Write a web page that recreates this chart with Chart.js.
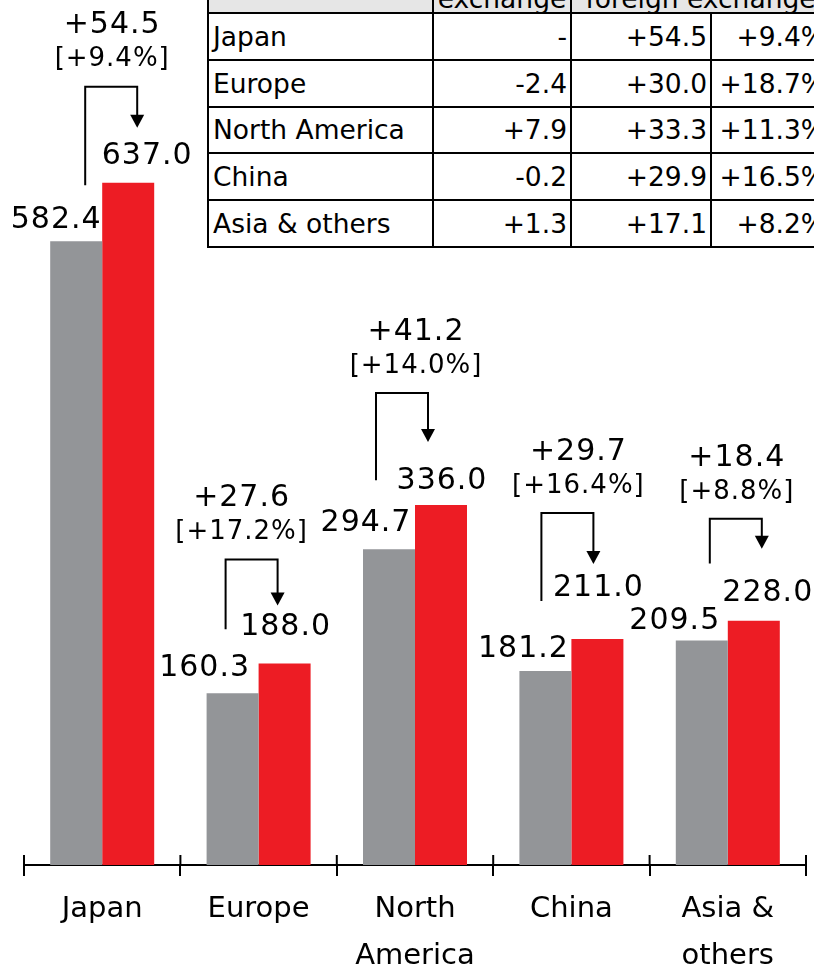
<!DOCTYPE html>
<html>
<head>
<meta charset="utf-8">
<script src="https://cdn.jsdelivr.net/npm/chart.js@4.4.1/dist/chart.umd.min.js"></script>
<style>
  html, body { margin: 0; padding: 0; background: #fff; }
  #wrap { position: relative; width: 814px; height: 969px; overflow: hidden; }
  #salesChart { position: absolute; left: 0; top: 0; }
  #fxTable {
    position: absolute; left: 207px; top: -31px;
    width: 622px; min-width: 622px;
    border-collapse: collapse; table-layout: fixed;
    font-family: "DejaVu Sans", sans-serif; font-size: 26.5px; color: #000;
    background: #fff;
  }
  #fxTable td, #fxTable th { border: 2px solid #000; padding: 0 3px; white-space: nowrap; overflow: hidden; }
  #fxTable thead th { background: #e6e6e6; height: 40px; font-weight: normal; vertical-align: bottom; line-height: 25px; padding-bottom: 1px; text-align: center; }
  #fxTable tbody td { height: 44.8px; text-align: right; line-height: 25px; }
  #fxTable tbody td:first-child { text-align: left; padding-left: 4px; }
</style>
</head>
<body>
<div id="wrap">
  <canvas id="salesChart" width="814" height="969"></canvas>
  <table id="fxTable">
    <colgroup>
      <col style="width:225px"><col style="width:138px"><col style="width:140px"><col style="width:119px">
    </colgroup>
    <thead>
      <tr><th></th><th id="hdr-fx"></th><th id="hdr-exfx" colspan="2"></th></tr>
    </thead>
    <tbody id="fxRows"></tbody>
  </table>
</div>
<script>
// --- Données ---
const categories    = [['Japan'], ['Europe'], ['North', 'America'], ['China'], ['Asia &', 'others']];
const prevSales     = [582.4, 160.3, 294.7, 181.2, 209.5];
const currSales     = [637.0, 188.0, 336.0, 211.0, 228.0];
const changeAmounts = ['+54.5', '+27.6', '+41.2', '+29.7', '+18.4'];
const changeRates   = ['[+9.4%]', '[+17.2%]', '[+14.0%]', '[+16.4%]', '[+8.8%]'];

const tableHeaders  = ['exchange', 'foreign exchange'];
const tableRegions  = ['Japan', 'Europe', 'North America', 'China', 'Asia & others'];
const fxImpact      = ['-', '-2.4', '+7.9', '-0.2', '+1.3'];
const exFxAmounts   = ['+54.5', '+30.0', '+33.3', '+29.9', '+17.1'];
const exFxRates     = ['+9.4%', '+18.7%', '+11.3%', '+16.5%', '+8.2%'];

const GRAY = '#939598';
const RED  = '#ed1c24';
const FONT = '"DejaVu Sans", sans-serif';

// --- Tableau ---
document.getElementById('hdr-fx').textContent   = tableHeaders[0];
document.getElementById('hdr-exfx').textContent = tableHeaders[1];
const tbody = document.getElementById('fxRows');
tableRegions.forEach((region, i) => {
    const tr = document.createElement('tr');
    [region, fxImpact[i], exFxAmounts[i], exFxRates[i]].forEach(txt => {
        const td = document.createElement('td');
        td.textContent = txt;
        tr.appendChild(td);
    });
    tbody.appendChild(tr);
});

// placement (px) des étiquettes de valeur et des flèches, par région
const calloutLayout = [
    { prevDx: -20, prevDy: -21, currDx: 19, currDy: -26, legDx:   9, top:  -96, legEnd: -56, tip: -55, textDx:  10 },
    { prevDx: -28, prevDy: -25, currDx:  1, currDy: -36, legDx:  -7, top: -104, legEnd: -64, tip: -58, textDx: -17 },
    { prevDx: -23, prevDy: -26, currDx:  1, currDy: -24, legDx: -13, top: -112, legEnd: -69, tip: -63, textDx:   1 },
    { prevDx: -22, prevDy: -22, currDx:  1, currDy: -51, legDx:  -4, top: -126, legEnd: -70, tip: -75, textDx:   7 },
    { prevDx: -27, prevDy: -19, currDx: 14, currDy: -28, legDx:   8, top: -102, legEnd: -77, tip: -72, textDx:   9 }
];

// --- Étiquettes + flèches ---
const calloutPlugin = {
    id: 'callouts',
    afterDatasetsDraw(chart) {
        const ctx  = chart.ctx;
        const prev = chart.getDatasetMeta(0).data;
        const curr = chart.getDatasetMeta(1).data;

        ctx.save();
        ctx.fillStyle   = '#000';
        ctx.strokeStyle = '#000';
        ctx.textAlign   = 'center';
        ctx.textBaseline = 'middle';

        prev.forEach((gBar, i) => {
            const rBar = curr[i];
            const L = calloutLayout[i];
            const center = (gBar.x + rBar.x) / 2;

            // valeurs
            ctx.font = '30px ' + FONT;
            ctx.letterSpacing = '1px';
            ctx.fillText(prevSales[i].toFixed(1), gBar.x + L.prevDx, gBar.y + L.prevDy);
            ctx.fillText(currSales[i].toFixed(1), rBar.x + L.currDx, rBar.y + L.currDy);

            // flèche
            const xl = gBar.x + L.legDx;
            const xr = rBar.x + L.legDx;
            const yTop = rBar.y + L.top;
            const yTip = rBar.y + L.tip;
            ctx.lineWidth = 2;
            ctx.beginPath();
            ctx.moveTo(xl, gBar.y + L.legEnd);
            ctx.lineTo(xl, yTop);
            ctx.lineTo(xr, yTop);
            ctx.lineTo(xr, yTip - 12);
            ctx.stroke();
            ctx.beginPath();
            ctx.moveTo(xr - 7, yTip - 13);
            ctx.lineTo(xr + 7, yTip - 13);
            ctx.lineTo(xr, yTip);
            ctx.closePath();
            ctx.fill();

            // variation
            ctx.fillText(changeAmounts[i], center + L.textDx, yTop - 61);
            ctx.font = '26px ' + FONT;
            ctx.fillText(changeRates[i], center + L.textDx, yTop - 27);
        });
        ctx.restore();
    },
    afterDraw(chart) {
        // partie haute des graduations de l'axe
        const ctx  = chart.ctx;
        const area = chart.chartArea;
        const step = (area.right - area.left) / categories.length;
        ctx.save();
        ctx.strokeStyle = '#000';
        ctx.lineWidth = 2;
        for (let i = 0; i <= categories.length; i++) {
            const x = area.left + i * step;
            ctx.beginPath();
            ctx.moveTo(x, area.bottom - 10);
            ctx.lineTo(x, area.bottom);
            ctx.stroke();
        }
        ctx.restore();
    }
};

// --- Graphique ---
const ctx = document.getElementById('salesChart').getContext('2d');
new Chart(ctx, {
    type: 'bar',
    data: {
        labels: categories,
        datasets: [
            { label: 'Previous', data: prevSales, backgroundColor: GRAY },
            { label: 'Current',  data: currSales, backgroundColor: RED }
        ]
    },
    options: {
        responsive: false,
        animation: false,
        layout: { padding: { left: 24, right: 8, top: 0, bottom: 0 } },
        datasets: { bar: { barPercentage: 1, categoryPercentage: 0.665 } },
        plugins: {
            legend: { display: false },
            tooltip: { enabled: false }
        },
        scales: {
            x: {
                afterFit: (scale) => { scale.height = 104; },
                grid: { offset: true, drawOnChartArea: false, drawTicks: true, tickLength: 11, color: '#000', lineWidth: 2 },
                border: { display: true, color: '#000', width: 2 },
                ticks: { color: '#000', padding: 10, maxRotation: 0, autoSkip: false, font: { family: FONT, size: 29, lineHeight: 1.62 } }
            },
            y: { display: false, min: 0, max: 807.5 }
        }
    },
    plugins: [calloutPlugin]
});
</script>
</body>
</html>
